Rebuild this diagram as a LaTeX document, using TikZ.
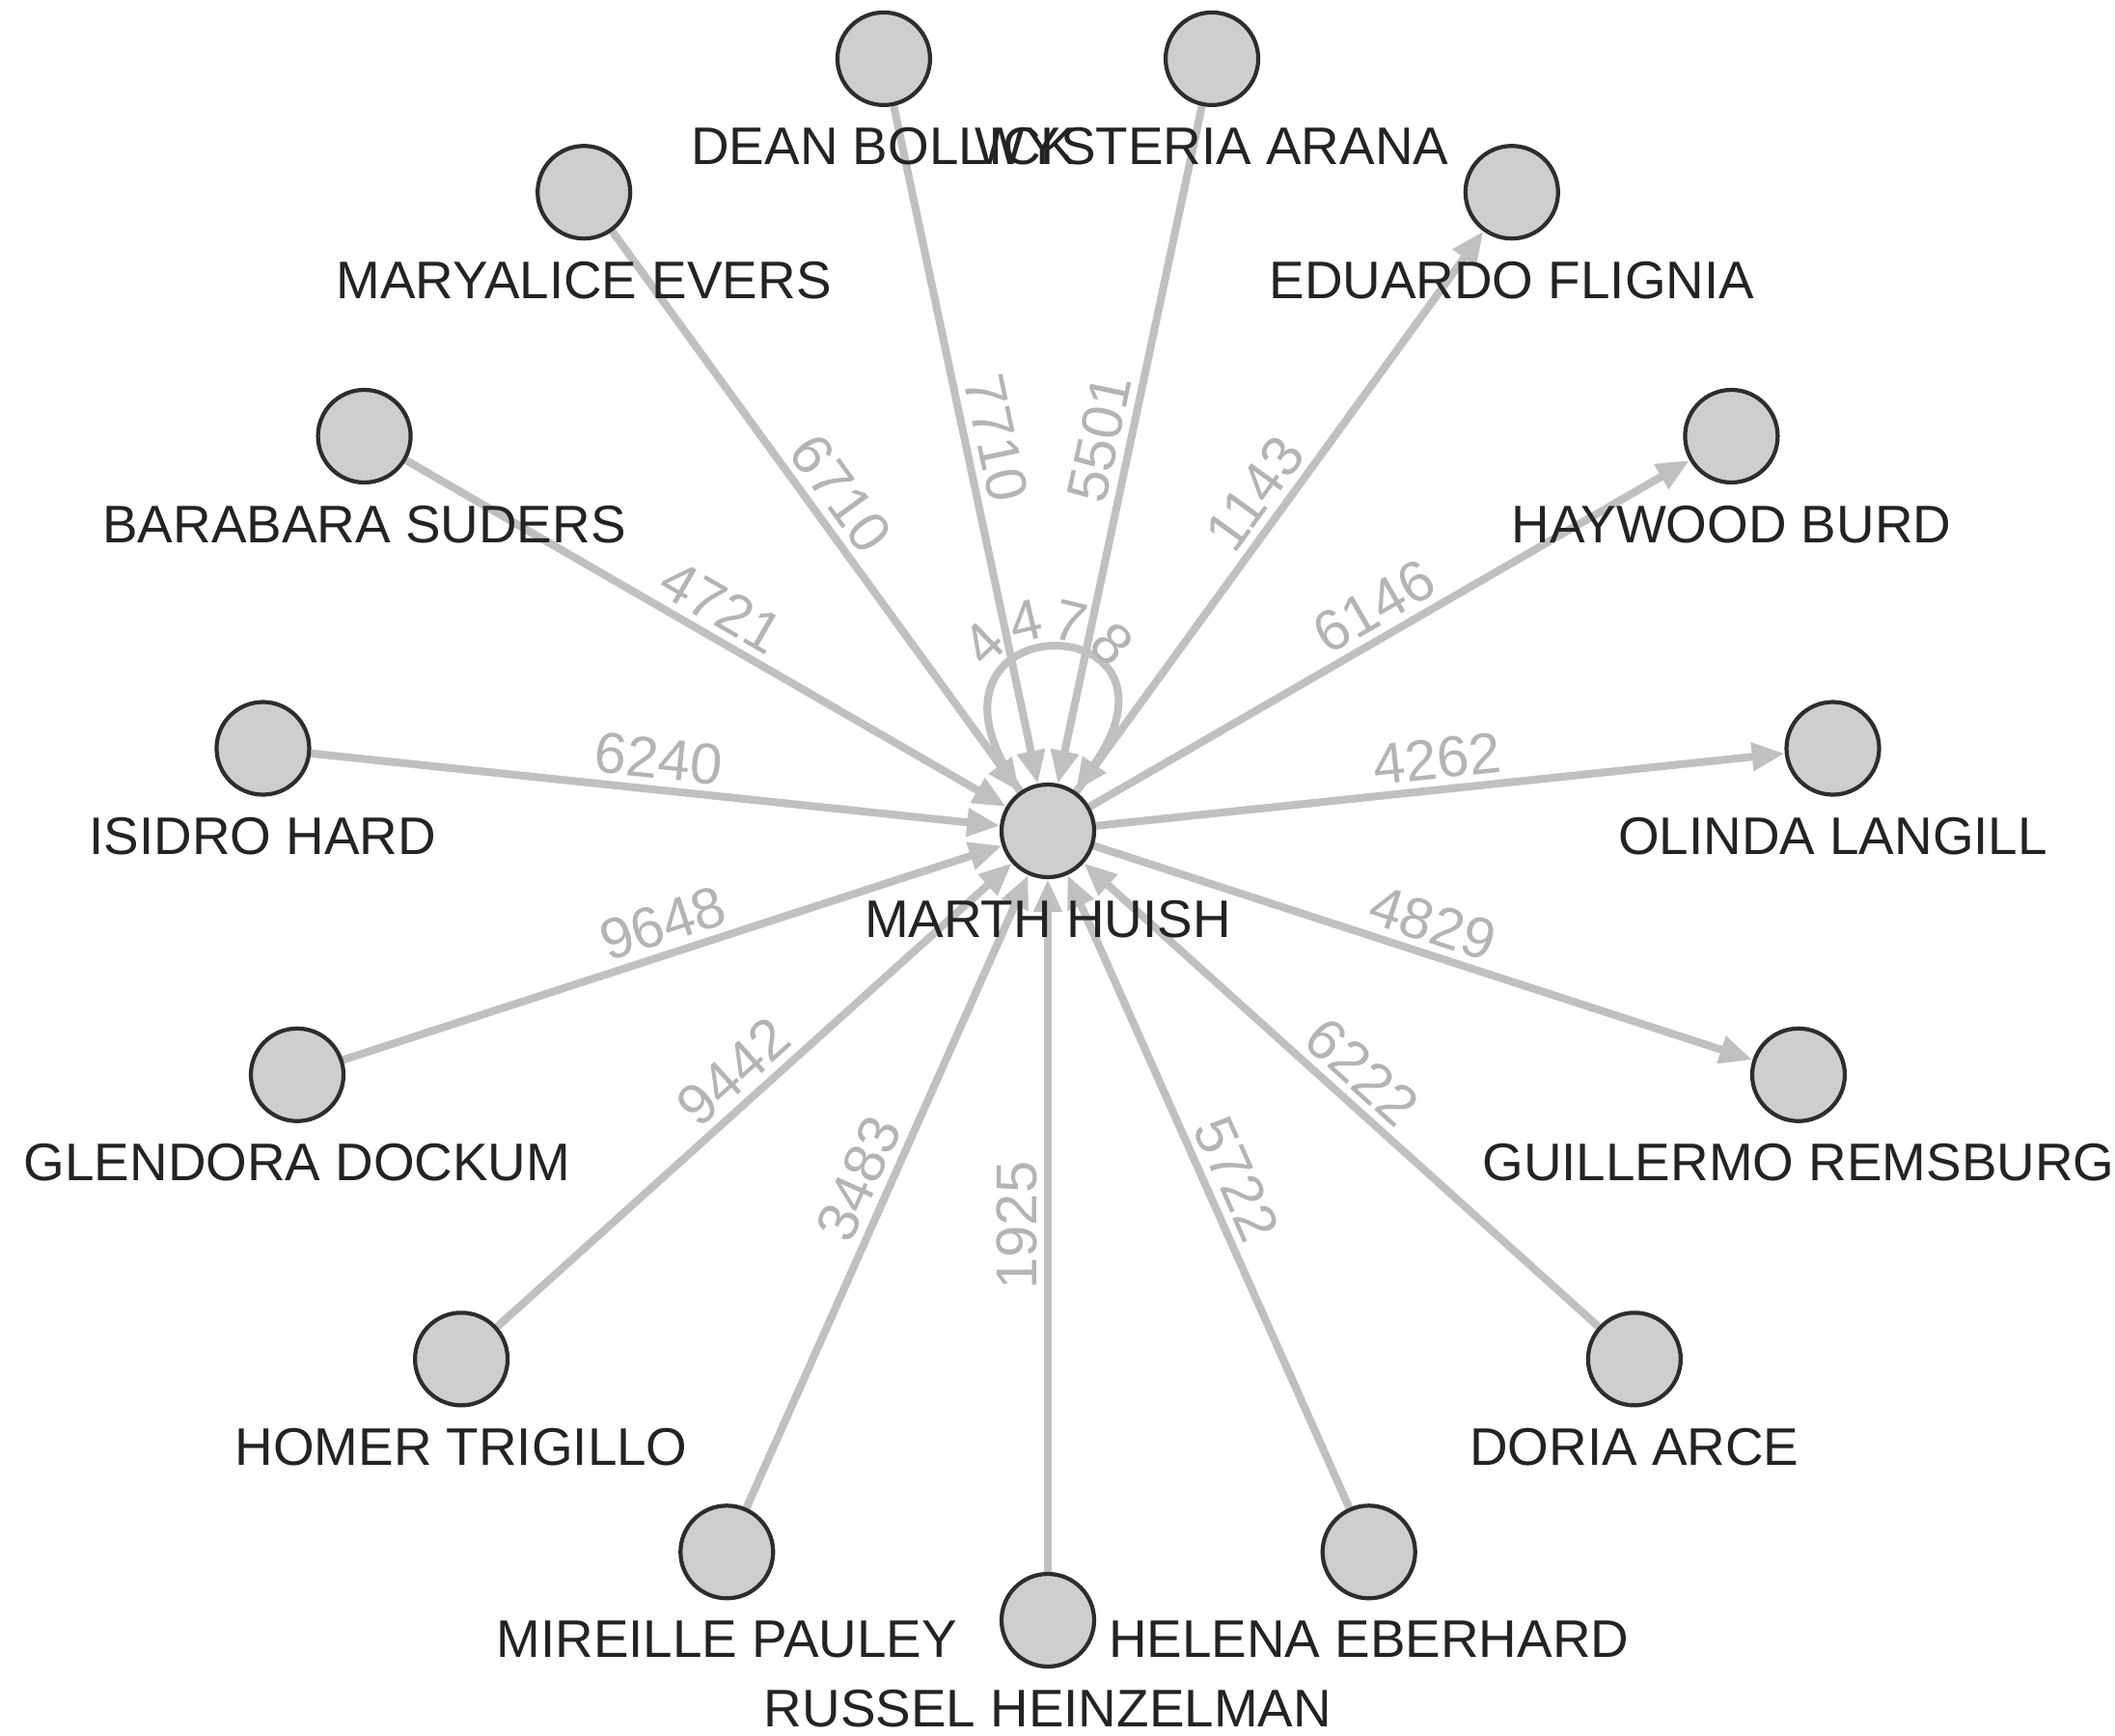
\documentclass[tikz,border=0pt]{standalone}
\usepackage{fontspec}
\setmainfont{Liberation Sans}
\usetikzlibrary{arrows.meta,backgrounds,decorations.text}

\definecolor{edgegray}{RGB}{192,192,192}
\definecolor{wtgray}{RGB}{180,180,180}
\definecolor{nodefill}{RGB}{206,206,206}
\definecolor{nodeline}{RGB}{45,45,45}
\definecolor{namecol}{RGB}{35,35,35}

\begin{document}
\begin{tikzpicture}[
  font=\fontsize{15.6}{18}\selectfont,
  label distance=2.1mm,
  person/.style={circle, draw=nodeline, line width=1.2pt, fill=nodefill, minimum size=9.6mm, inner sep=0pt},
  every label/.style={text=namecol, inner sep=0pt},
  edge/.style={draw=edgegray, line width=2.3pt, -{Triangle[length=3.4mm,width=2.8mm]}},
  wt/.style={sloped, above, pos=0.5, text=wtgray, inner sep=2pt, font=\fontsize{17}{20}\selectfont}
]
\useasboundingbox (-10.86,-9.37) rectangle (11.06,8.61);

\node[person, label=below:MARTH HUISH] (marth) at (0,0) {};

\node[person, label=below:RUSSEL HEINZELMAN]  (russel)    at (270:8.18) {};
\node[person, label=below:HELENA EBERHARD]    (helena)    at (294:8.18) {};
\node[person, label=below:DORIA ARCE]         (doria)     at (318:8.18) {};
\node[person, label=below:GUILLERMO REMSBURG] (guillermo) at (342:8.18) {};
\node[person, label=below:OLINDA LANGILL]     (olinda)    at (6:8.18)   {};
\node[person, label=below:HAYWOOD BURD]       (haywood)   at (30:8.18)  {};
\node[person, label=below:EDUARDO FLIGNIA]    (eduardo)   at (54:8.18)  {};
\node[person, label=below:WYSTERIA ARANA]     (wysteria)  at (78:8.18)  {};
\node[person, label=below:DEAN BOLLICK]       (dean)      at (102:8.18) {};
\node[person, label=below:MARYALICE EVERS]    (maryalice) at (126:8.18) {};
\node[person, label=below:BARABARA SUDERS]    (barabara)  at (150:8.18) {};
\node[person, label=below:ISIDRO HARD]        (isidro)    at (174:8.18) {};
\node[person, label=below:GLENDORA DOCKUM]    (glendora)  at (198:8.18) {};
\node[person, label=below:HOMER TRIGILLO]     (homer)     at (222:8.18) {};
\node[person, label=below:MIREILLE PAULEY]    (mireille)  at (246:8.18) {};

\begin{scope}[on background layer]
% incoming
\draw[edge] (dean)      -- node[wt] {7710} (marth);
\draw[edge] (wysteria)  -- node[wt] {5501} (marth);
\draw[edge] (maryalice) -- node[wt] {6710} (marth);
\draw[edge] (barabara)  -- node[wt] {4721} (marth);
\draw[edge] (isidro)    -- node[wt] {6240} (marth);
\draw[edge] (glendora)  -- node[wt] {9648} (marth);
\draw[edge] (homer)     -- node[wt] {9442} (marth);
\draw[edge] (mireille)  -- node[wt] {3483} (marth);
\draw[edge] (russel)    -- node[wt] {1925} (marth);
\draw[edge] (helena)    -- node[wt] {5722} (marth);
\draw[edge] (doria)     -- node[wt] {6222} (marth);
% outgoing
\draw[edge] (marth) -- node[wt] {4829} (guillermo);
\draw[edge] (marth) -- node[wt] {4262} (olinda);
\draw[edge] (marth) -- node[wt] {6146} (haywood);
\draw[edge] (marth) -- node[wt] {1143} (eduardo);
% self loop
\draw[edge] (marth.125) .. controls +(125:2.4) and +(55:2.4) .. (marth.55);
\path[decorate, decoration={text along path, text align=center, raise=3pt,
  text={|\color{wtgray}\fontsize{17}{20}\selectfont|4478}}]
  (marth.125) .. controls +(125:2.4) and +(55:2.4) .. (marth.55);
\end{scope}
\end{tikzpicture}
\end{document}
